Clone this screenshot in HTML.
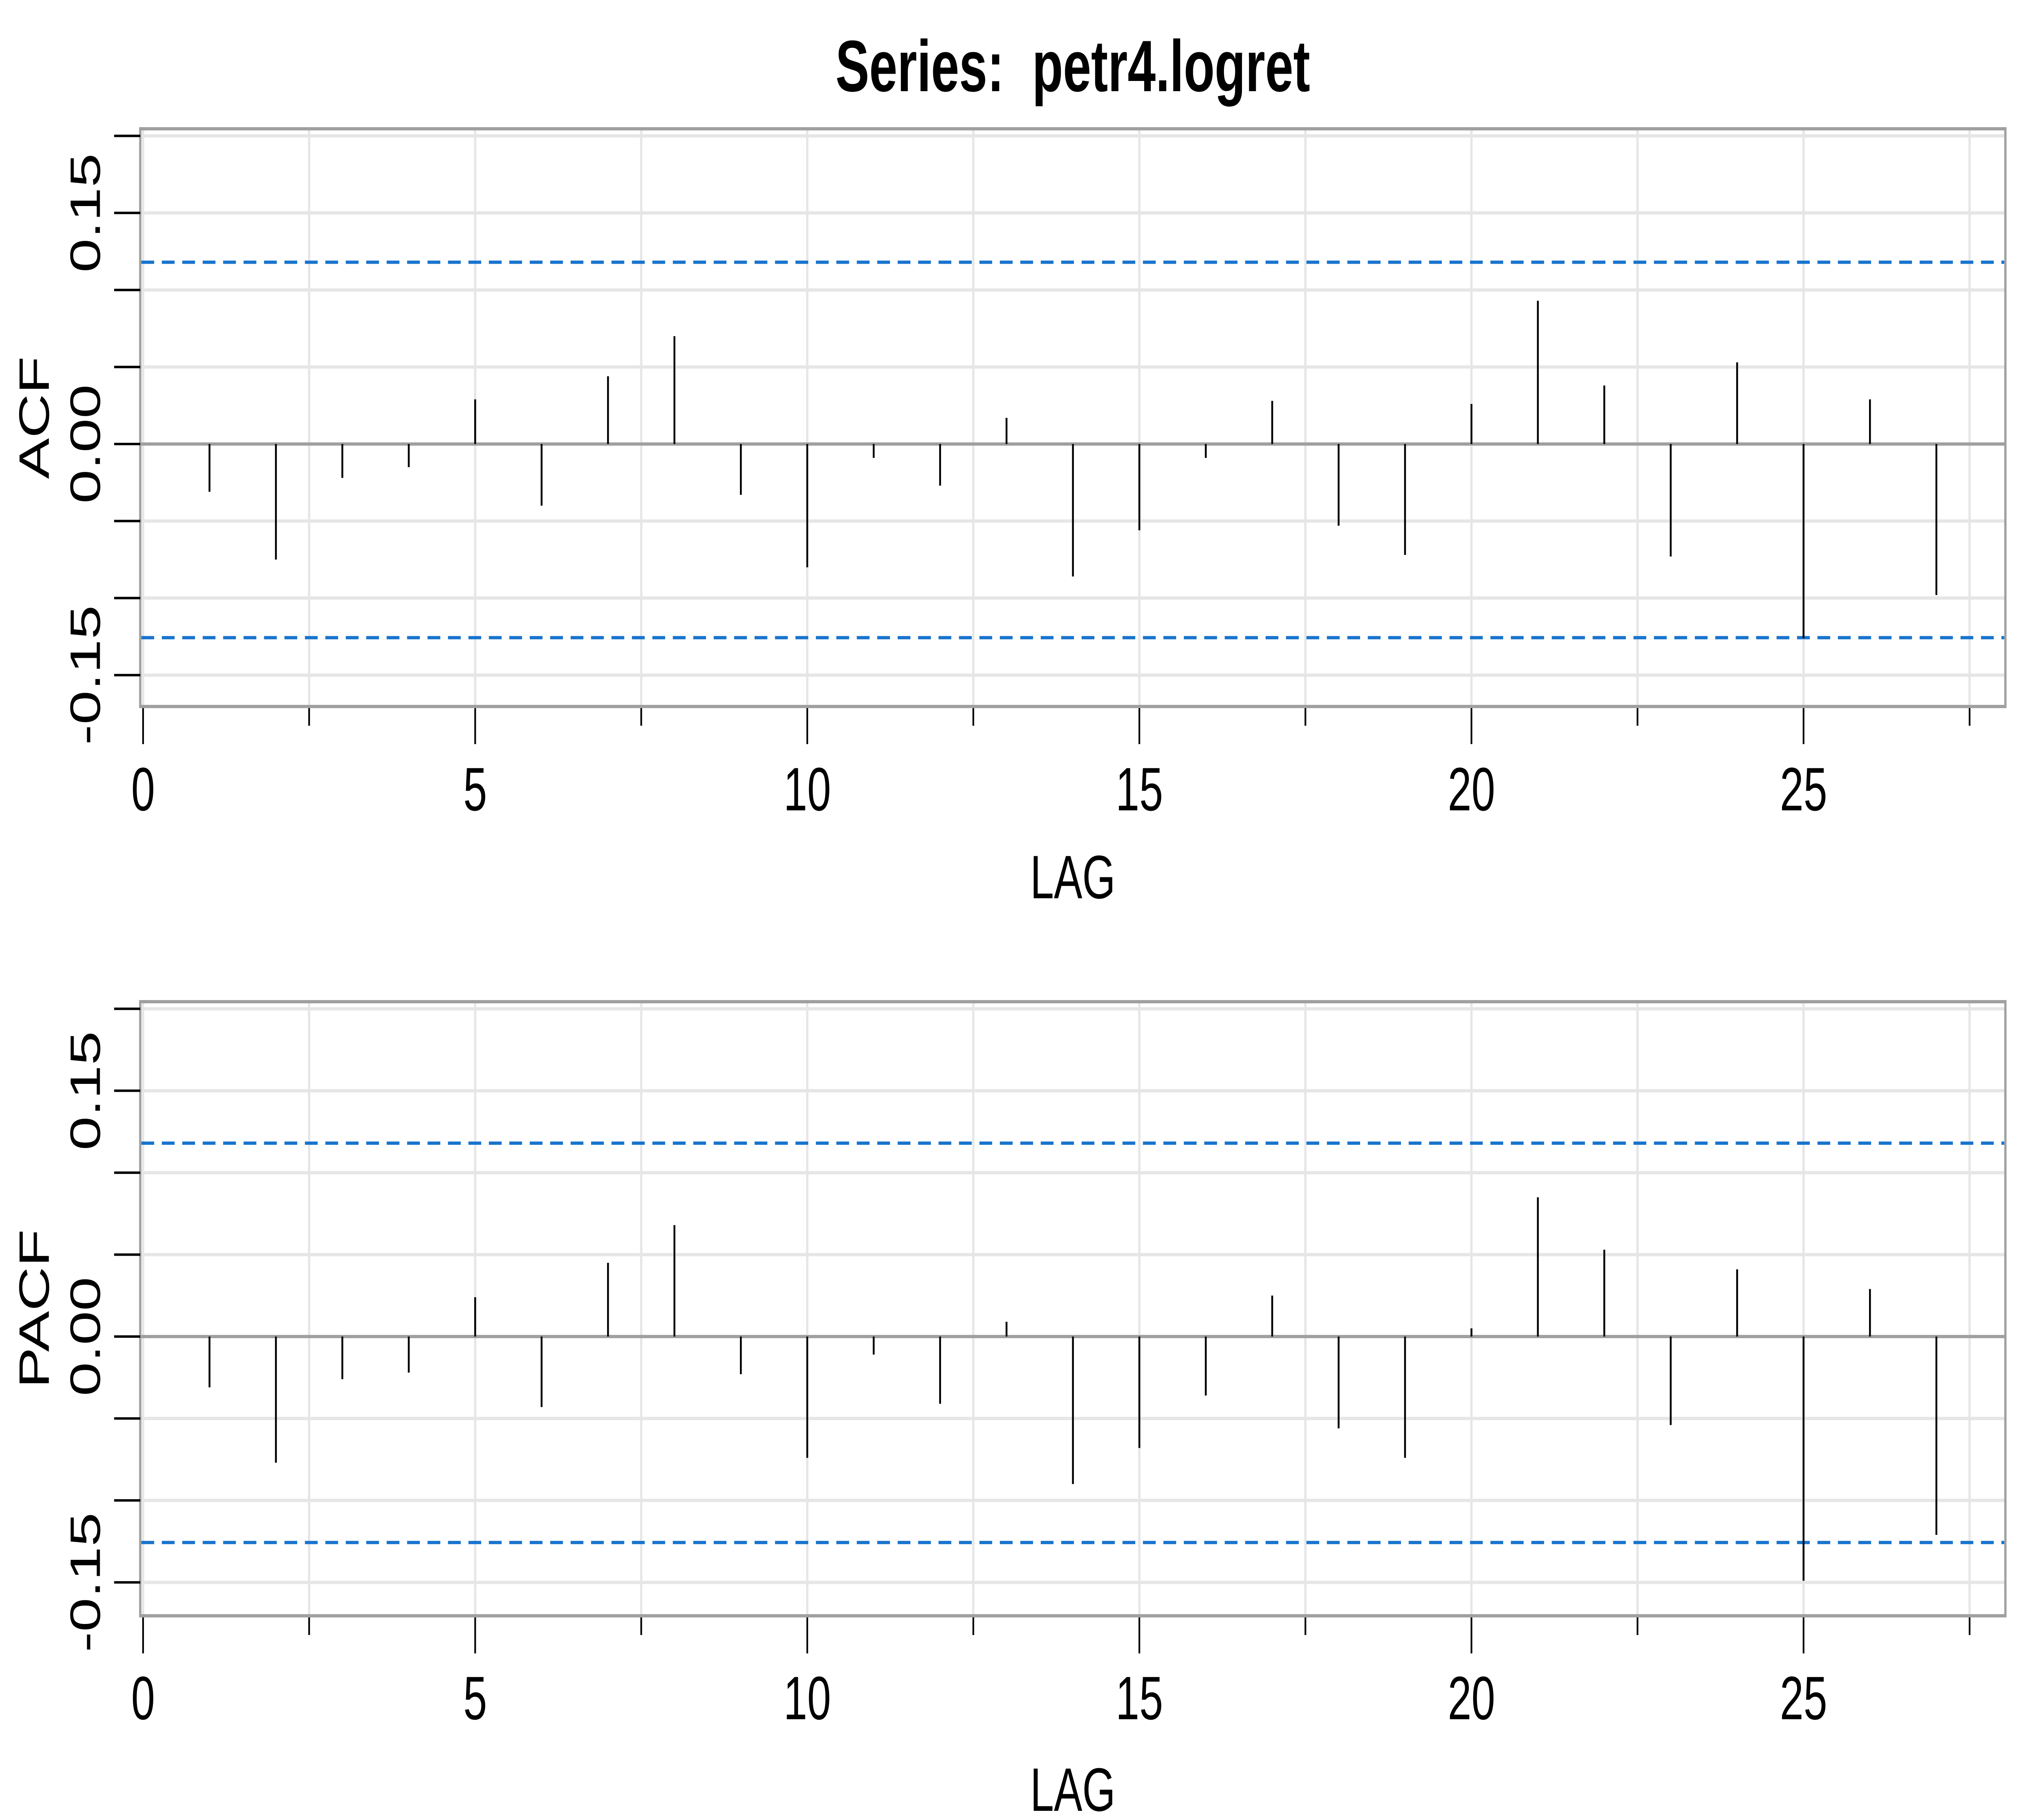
<!DOCTYPE html>
<html><head><meta charset="utf-8"><style>
html,body{margin:0;padding:0;background:#fff;width:100%;height:100%;overflow:hidden;}
svg{display:block;font-family:"Liberation Sans",Arial,sans-serif;overflow:hidden;width:100vw;height:100vh;}
</style></head><body>
<svg id="chart" viewBox="0 0 7200 4449" preserveAspectRatio="none" xmlns="http://www.w3.org/2000/svg">
<rect width="7200" height="4449" fill="#fff"/>
<text x="3779" y="223" font-size="178" font-weight="bold" text-anchor="middle">Series:&#160; petr4.logret</text>
</svg>
<script>
const lags = [1,2,3,4,5,6,7,8,9,10,11,12,13,14,15,16,17,18,19,20,21,22,23,24,25,26,27];
const acfValues = [-0.031,-0.075,-0.022,-0.015,0.029,-0.040,0.044,0.070,-0.033,-0.080,-0.009,-0.027,0.017,-0.086,-0.056,-0.009,0.028,-0.053,-0.072,0.026,0.093,0.038,-0.073,0.053,-0.126,0.029,-0.098];
const pacfValues = [-0.031,-0.077,-0.026,-0.022,0.024,-0.043,0.045,0.068,-0.023,-0.074,-0.011,-0.041,0.009,-0.090,-0.068,-0.036,0.025,-0.056,-0.074,0.005,0.085,0.053,-0.054,0.041,-0.149,0.029,-0.121];
const upperBound = 0.118;
const lowerBound = -0.1257;
const yTickValues = [0.20,0.15,0.10,0.05,0.00,-0.05,-0.10,-0.15];
const yTickLabels = ["0.15","0.00","-0.15"];
const xTickValues = [0,2.5,5,7.5,10,12.5,15,17.5,20,22.5,25,27.5];
const xTickLabels = ["0","5","10","15","20","25"];

const NS = "http://www.w3.org/2000/svg";
const svg = document.getElementById('chart');
function mk(tag, attrs, parent){
  const e = document.createElementNS(NS, tag);
  for (const k in attrs) e.setAttribute(k, attrs[k]);
  (parent||svg).appendChild(e);
  return e;
}
const X0 = 504, XS = 233.96;
function xScale(l){ return X0 + l*XS; }

function panel(name, values, top, bottom, zeroY, ys, ylabel, tickLblY, lagY){
  const left = 494, right = 7064;
  const yScale = v => zeroY - v*ys;
  const g = mk('g', {});
  
  
  yTickValues.forEach(v => {
    const y = yScale(v);
    const ln = mk('line', {x1:left, x2:right, y1:y, y2:y, stroke:'#e6e6e6', 'stroke-width':8}, g);
    
    
  });
  xTickValues.forEach(v => {
    const x = xScale(v);
    if (x > right) return;
    const ln = mk('line', {x1:x, x2:x, y1:top, y2:bottom, stroke:'#e6e6e6', 'stroke-width':8}, g);
    
    
  });
  const z = mk('line', {x1:left, x2:right, y1:zeroY, y2:zeroY, stroke:'#a0a0a0', 'stroke-width':8}, g);
  
  
  [upperBound, lowerBound].forEach((b,i) => {
    const y = yScale(b);
    const ln = mk('line', {x1:left+4, x2:right-4, y1:y, y2:y, stroke:'#1874cd', 'stroke-width':8, 'stroke-dasharray':'45 27'}, g);
    
    
  });
  values.forEach((v,i) => {
    const x = xScale(lags[i]);
    const ln = mk('line', {x1:x, x2:x, y1:zeroY, y2:yScale(v), stroke:'#000', 'stroke-width':6.5}, g);
    
    
  });
  const box = mk('rect', {x:left, y:top, width:right-left, height:bottom-top, fill:'none', stroke:'#a0a0a0', 'stroke-width':8}, g);
  
  
  yTickValues.forEach(v => {
    const y = yScale(v);
    const t = mk('line', {x1:402, x2:494, y1:y, y2:y, stroke:'#000', 'stroke-width':6}, g);
    
    
  });
  yTickLabels.forEach(s => {
    const y = yScale(parseFloat(s));
    const t = mk('text', {x:0, y:0, 'font-size':150, 'text-anchor':'middle', transform:'translate(352,'+y+') rotate(-90)'}, g);
    t.textContent = s;
    
    
  });
  const yl = mk('text', {x:0, y:0, 'font-size':150, 'text-anchor':'middle', transform:'translate(172,'+((top+bottom)/2)+') rotate(-90)'}, g);
  yl.textContent = ylabel;
  
  
  xTickValues.forEach((v,i) => {
    const x = xScale(v);
    const major = (i % 2 === 0);
    const t = mk('line', {x1:x, x2:x, y1:bottom+4, y2:bottom + (major ? 92 : 47), stroke:'#000', 'stroke-width':6}, g);
    
    
  });
  xTickLabels.forEach(s => {
    const t = mk('text', {x:xScale(parseFloat(s)), y:tickLblY+54, 'font-size':150, 'text-anchor':'middle'}, g);
    t.textContent = s;
    
    
  });
  const xl = mk('text', {x:(left+right)/2, y:lagY+54, 'font-size':150, 'text-anchor':'middle'}, g);
  xl.textContent = 'LAG';
  
  
}
panel('acf', acfValues, 315, 1728, 1086, 3768, 'ACF', 1928, 2143);
panel('pacf', pacfValues, 2450, 3952, 3269, 4008, 'PACF', 4151, 4375);
</script>
</body></html>
